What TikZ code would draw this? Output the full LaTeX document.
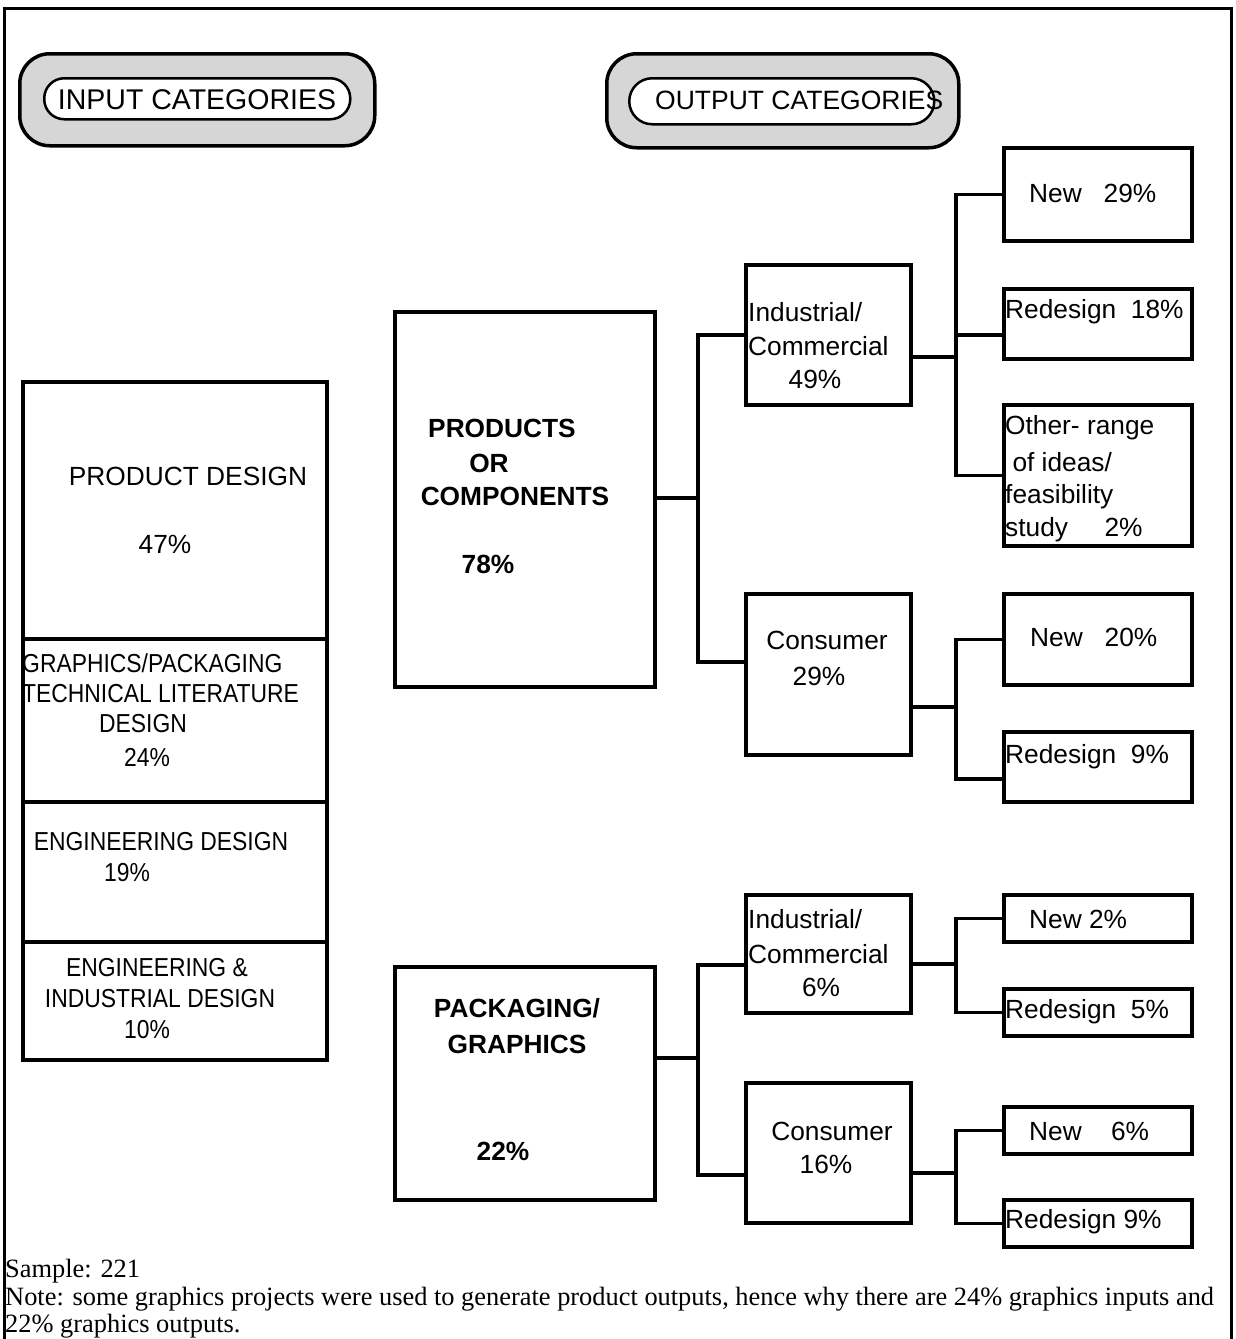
\documentclass[tikz,border=0pt]{standalone}
\usepackage{fontspec}
\setmainfont{Liberation Serif}
\setsansfont{Liberation Sans}
\newfontfamily\narrowsans{Liberation Sans}[FakeStretch=0.88]
\begin{document}
\begin{tikzpicture}[x=1pt,y=-1pt,
  bx/.style={draw, line width=3.5pt, inner sep=0pt, anchor=north west},
  conn/.style={line width=3.5pt},
  txtc/.style={font=\fontsize{26.3}{31}\selectfont\sffamily, inner sep=0pt},
  txtl/.style={txtc, anchor=west},
  txts/.style={font=\fontsize{26}{30}\selectfont\narrowsans, inner sep=0pt},
  txtsl/.style={txts, anchor=west},
  txtp/.style={font=\fontsize{27.5}{32}\selectfont\sffamily, inner sep=0pt},
  txtb/.style={font=\fontsize{26.3}{31}\selectfont\sffamily\bfseries, inner sep=0pt},
  pill/.style={draw, line width=3.5pt, fill=black!16, rounded corners=30pt, inner sep=0pt, anchor=north west},
  oval/.style={draw, line width=2.5pt, fill=white, inner sep=0pt, anchor=north west},
  note/.style={font=\fontsize{26.4}{30}\selectfont\rmfamily, inner sep=0pt, anchor=west}]
\useasboundingbox (0,0) rectangle (1235,1339);
% frame
\draw[line width=3pt] (4,1345) -- (4,8) -- (1231,8) -- (1231,1345);

% header pills
\node[pill, minimum width=355pt, minimum height=92pt] (inpill) at (18,52) {};
\node[oval, rounded corners=20pt, minimum width=306pt, minimum height=41pt] (inoval) at (43,77) {};
\node[txtp, font=\fontsize{28.5}{32}\selectfont\sffamily] (intxt) at (197,100) {INPUT CATEGORIES};
\node[pill, minimum width=352pt, minimum height=94pt] (outpill) at (605,52) {};
\node[oval, rounded corners=23pt, minimum width=305pt, minimum height=46pt] (outoval) at (628,77) {};
\node[txtp, font=\fontsize{26.5}{32}\selectfont\sffamily, anchor=west] (outtxt) at (655,100) {OUTPUT CATEGORIES};

% input boxes
\node[bx, minimum width=304pt, minimum height=257pt] (pd) at (21,380) {};
\node[bx, minimum width=304pt, minimum height=163pt] (gp) at (21,637) {};
\node[bx, minimum width=304pt, minimum height=140pt] (ed) at (21,800) {};
\node[bx, minimum width=304pt, minimum height=118pt] (eid) at (21,940) {};
\node[txtc] (pdt1) at (188,476) {PRODUCT DESIGN};
\node[txtc] (pdt2) at (165,544) {47\%};
\node[txtsl] (gpt1) at (22,663) {GRAPHICS/PACKAGING};
\node[txtsl] (gpt2) at (22,694) {TECHNICAL LITERATURE};
\node[txts] (gpt3) at (143,724) {DESIGN};
\node[txts] (gpt4) at (147,757) {24\%};
\node[txts] (edt1) at (161,842) {ENGINEERING DESIGN};
\node[txts] (edt2) at (127,873) {19\%};
\node[txts] (eidt1) at (157,968) {ENGINEERING \&};
\node[txts] (eidt2) at (160,999) {INDUSTRIAL DESIGN};
\node[txts] (eidt3) at (147,1030) {10\%};

% output level 1
\node[bx, minimum width=260pt, minimum height=375pt] (prod) at (393,310) {};
\node[txtb] (prt1) at (502,428) {PRODUCTS};
\node[txtb] (prt2) at (489,463) {OR};
\node[txtb] (prt3) at (515,496) {COMPONENTS};
\node[txtb] (prt4) at (488,564) {78\%};
\node[bx, minimum width=260pt, minimum height=233pt] (pack) at (393,965) {};
\node[txtb] (pkt1) at (517,1008) {PACKAGING/};
\node[txtb] (pkt2) at (517,1044) {GRAPHICS};
\node[txtb] (pkt3) at (503,1151) {22\%};

% level 2
\node[bx, minimum width=165pt, minimum height=140pt] (ic1) at (744,263) {};
\node[txtl] (ic1t1) at (748,312) {Industrial/};
\node[txtl] (ic1t2) at (748,346) {Commercial};
\node[txtc] (ic1t3) at (815,379) {49\%};
\node[bx, minimum width=165pt, minimum height=161pt] (con1) at (744,592) {};
\node[txtc] (con1t1) at (827,640) {Consumer};
\node[txtc] (con1t2) at (819,676) {29\%};
\node[bx, minimum width=165pt, minimum height=118pt] (ic2) at (744,893) {};
\node[txtl] (ic2t1) at (748,919) {Industrial/};
\node[txtl] (ic2t2) at (748,954) {Commercial};
\node[txtc] (ic2t3) at (821,987) {6\%};
\node[bx, minimum width=165pt, minimum height=140pt] (con2) at (744,1081) {};
\node[txtc] (con2t1) at (832,1131) {Consumer};
\node[txtc] (con2t2) at (826,1164) {16\%};

% level 3
\node[txtl] (n29t) at (1029,193) {New\ \ \ 29\%};
\node[bx, minimum width=188pt, minimum height=93pt] (new29) at (1002,146) {};
\node[txtl] (r18t) at (1005,312) {Redesign\ \ 18\%};
\node[bx, minimum width=188pt, minimum height=70pt] (red18) at (1002,287) {};
\node[txtl] (otht1) at (1005,428) {Other- range};
\node[txtl] (otht2) at (1005,462) {\ of ideas/};
\node[txtl] (otht3) at (1005,497) {feasibility};
\node[txtl] (otht4) at (1005,530) {study\ \ \ \ \ 2\%};
\node[bx, minimum width=188pt, minimum height=141pt] (oth) at (1002,403) {};
\node[txtl] (n20t) at (1030,637) {New\ \ \ 20\%};
\node[bx, minimum width=188pt, minimum height=91pt] (new20) at (1002,592) {};
\node[txtl] (r9at) at (1005,757) {Redesign\ \ 9\%};
\node[bx, minimum width=188pt, minimum height=70pt] (red9a) at (1002,730) {};
\node[txtl] (n2t) at (1029,919) {New 2\%};
\node[bx, minimum width=188pt, minimum height=47pt] (new2) at (1002,893) {};
\node[txtl] (r5t) at (1005,1012) {Redesign\ \ 5\%};
\node[bx, minimum width=188pt, minimum height=47pt] (red5) at (1002,987) {};
\node[txtl] (n6t) at (1029,1131) {New\ \ \ \ 6\%};
\node[bx, minimum width=188pt, minimum height=47pt] (new6) at (1002,1105) {};
\node[txtl] (r9bt) at (1005,1222) {Redesign 9\%};
\node[bx, minimum width=188pt, minimum height=47pt] (red9b) at (1002,1198) {};

% junction coordinates
\coordinate (j1) at (698,498);
\coordinate (j2) at (956,357);
\coordinate (j3) at (956,707);
\coordinate (j4) at (698,1058);
\coordinate (j5) at (956,964);
\coordinate (j6) at (956,1173);

% connectors
\draw[conn] (prod.east |- j1) -- (j1);
\draw[conn] (ic1.west) -| (j1) |- ([yshift=12.5pt]con1.west);
\draw[conn] (ic1.east |- j2) -- (j2);
\draw[conn] (new29.west) -| (j2) |- (oth.west);
\draw[conn] (j2) |- ([yshift=-11pt]red18.west);
\draw[conn] (con1.east |- j3) -- (j3);
\draw[conn] (new20.west) -| (j3) |- ([yshift=-12pt]red9a.west);
\draw[conn] (pack.east |- j4) -- (j4);
\draw[conn] ([yshift=-11pt]ic2.west) -| (j4) |- ([yshift=-22pt]con2.west);
\draw[conn] (ic2.east |- j5) -- (j5);
\draw[conn] (new2.west) -| (j5) |- (red5.west);
\draw[conn] (con2.east |- j6) -- (j6);
\draw[conn] (new6.west) -| (j6) |- (red9b.west);

% notes
\node[note] (n1) at (5,1271) {Sample: 221};
\node[note] (n2) at (5,1299) {Note: some graphics projects were used to generate product outputs, hence why there are 24\% graphics inputs and};
\node[note] (n3) at (5,1326) {22\% graphics outputs.};
\end{tikzpicture}
\end{document}
